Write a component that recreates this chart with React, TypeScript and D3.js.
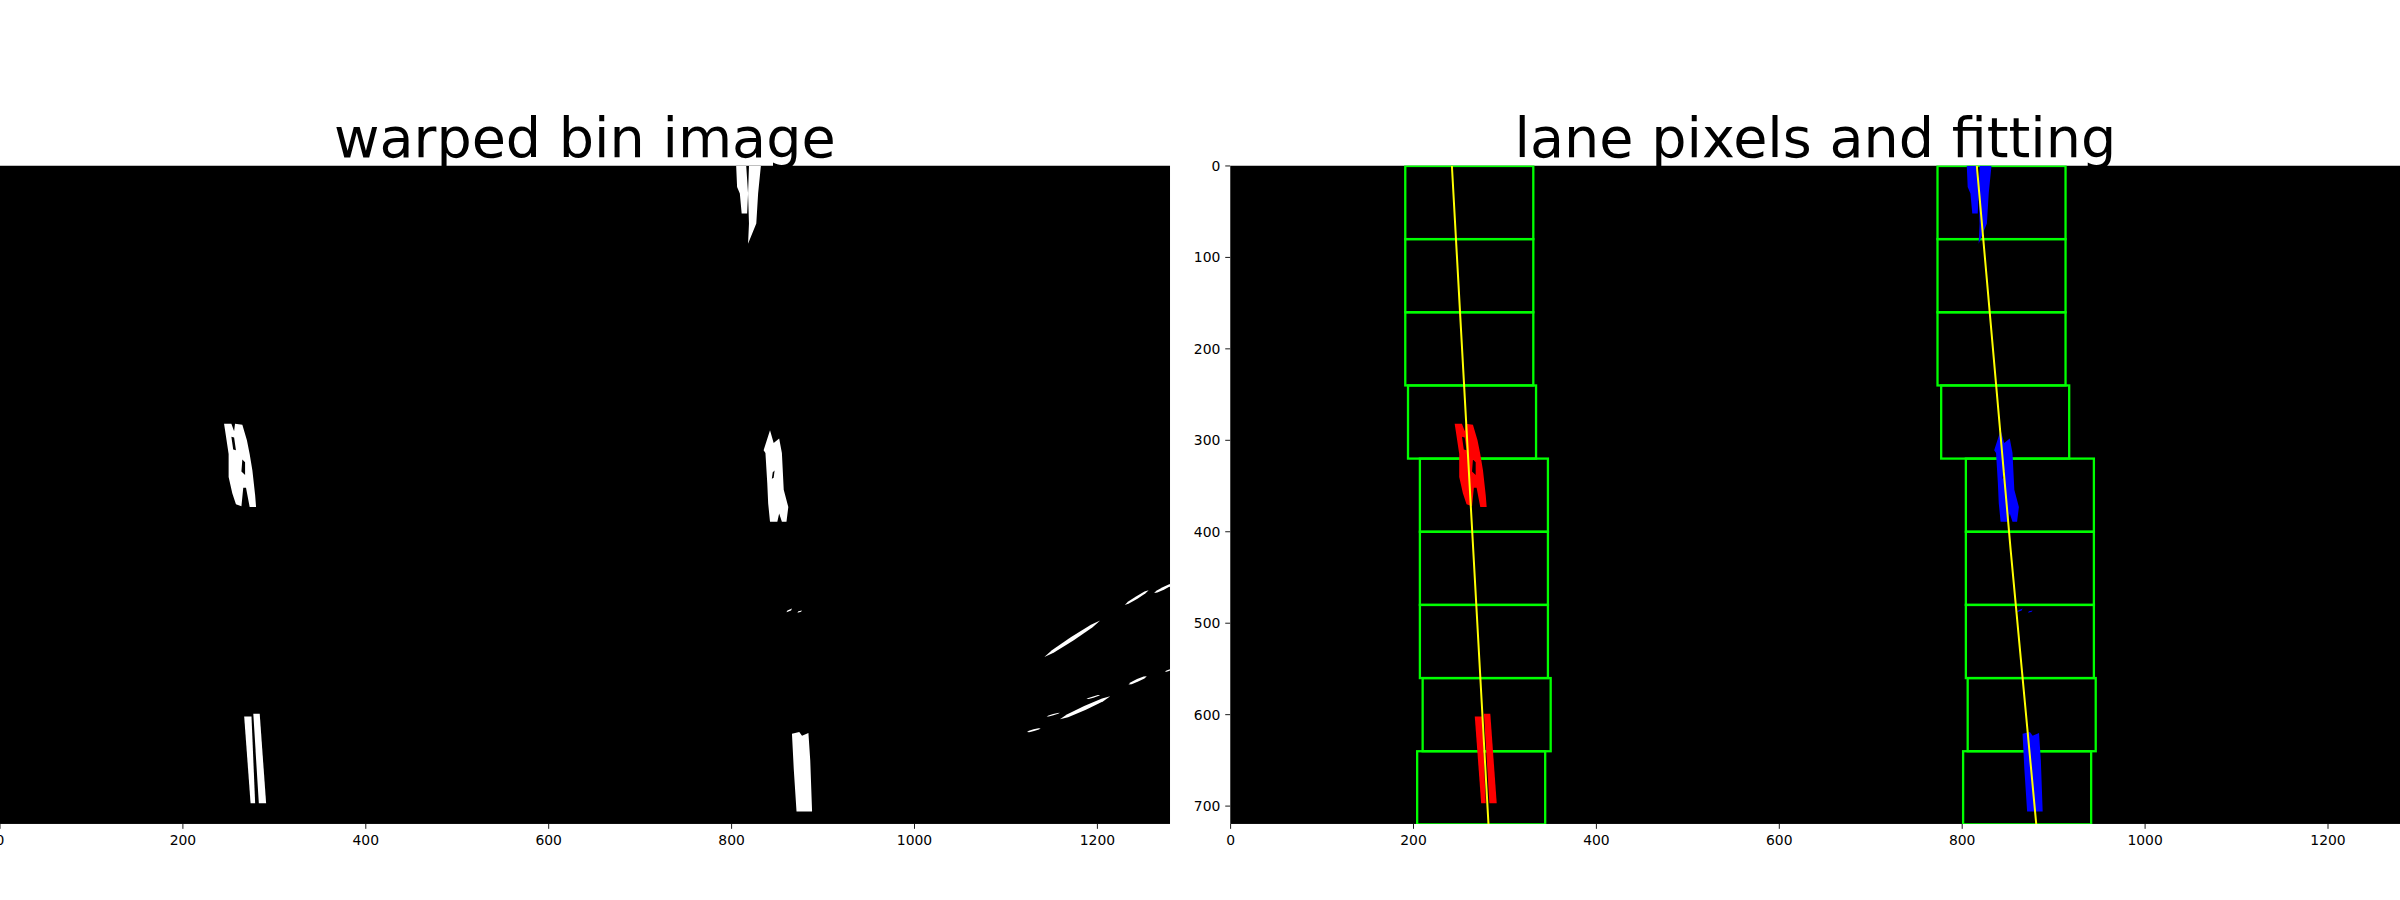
import * as d3 from "d3";
import React from "react";

type Pt = [number, number];

// image is 1280 x 720 pixels, both panels
const IMG_W = 1280;
const IMG_H = 720;

// lane pixel blobs, in image pixel coords [x, y].
// each blob: first ring is the outline, further rings are holes
const leftLaneBlobs: Pt[][][] = [
  [
    [[245, 282], [253, 282], [256, 290], [257, 282], [265, 283], [270, 300], [273, 315], [276, 333], [279, 360], [280, 373], [273, 373], [269, 352], [266, 352], [264, 372], [258, 370], [254, 358], [250, 340], [250, 315], [247, 295]],
    [[253, 296], [256, 297], [258, 311], [255, 310]],
    [[265, 321], [268, 324], [268, 338], [264, 334]],
  ],
  [[[267, 602], [275, 602], [279, 697], [274, 697]]],
  [[[277, 599], [284, 599], [291, 697], [283, 697]]],
];

const rightLaneBlobs: Pt[][][] = [
  [[[805, 0], [816, 0], [818, 30], [817, 52], [811, 52], [809, 30], [806, 23]]],
  [[[819, 0], [832, 0], [829, 30], [827, 63], [818, 85], [819, 63], [818, 30]]],
  [
    [[835, 311], [842, 289], [846, 303], [852, 298], [855, 314], [857, 354], [862, 373], [860, 389], [855, 389], [852, 380], [850, 389], [842, 389], [840, 369], [839, 347], [837, 314]],
    [[845, 335], [847, 333], [846, 341], [844, 342]],
  ],
  [[[866, 621], [874, 619], [877, 623], [884, 620], [886, 650], [888, 706], [871, 706], [868, 660]]],
  [[[860, 488], [861, 486], [866, 484], [865, 486]]],
  [[[872, 488.5], [873, 487], [877, 486], [876, 487.5]]],
];

// diagonal streaks outside the lanes: [x1, y1, x2, y2, width]
const noiseStreaks: number[][] = [
  [1230, 480, 1256, 464, 3],
  [1262, 467, 1282, 457, 3],
  [1142, 537, 1203, 497, 4.5],
  [1234, 567, 1254, 558, 3],
  [1274, 553, 1282, 550, 1.5],
  [1159, 605, 1214, 580, 4.5],
  [1144.5, 602, 1159, 598, 1.5],
  [1188, 583, 1203, 578.5, 1.5],
  [1123, 619, 1138, 615, 2],
];

// sliding windows: y top of each window and its centre x
const windowTops = [0, 80, 160, 240, 320, 400, 480, 560, 640];
const leftWindowCenters = [261, 261, 261, 264, 277, 277, 277, 280, 274];
const rightWindowCenters = [843, 843, 843, 847, 874, 874, 874, 876, 871];
const windowMargin = 70;
const windowHeight = 80;

// fitted lines, [y, x]
const leftFit: Pt[] = [[0, 242], [360, 262], [720, 282]];
const rightFit: Pt[] = [[0, 816], [420, 853], [720, 881]];

const xTicks = [0, 200, 400, 600, 800, 1000, 1200];
const yTicks = [0, 100, 200, 300, 400, 500, 600, 700];

const titles = ["warped bin image", "lane pixels and fitting"];

const K = 0.9145; // screen px per image px
const AX_TOP = 165.5;
const PANEL_X0 = [0, 1230.6];
const FONT = "DejaVu Sans, sans-serif";

const yScale = d3.scaleLinear().domain([-0.5, IMG_H - 0.5]).range([AX_TOP, AX_TOP + IMG_H * K]);

const streakPoly = (s: number[]): Pt[] => {
  const [x1, y1, x2, y2, w] = s;
  const dx = x2 - x1, dy = y2 - y1;
  const len = Math.hypot(dx, dy);
  const nx = -dy / len, ny = dx / len;
  const ts = [0, 0.15, 0.5, 0.85, 1];
  const hw = [0, 0.75, 1, 0.75, 0];
  const up: Pt[] = ts.map((t, i) => [x1 + dx * t + nx * hw[i] * w / 2, y1 + dy * t + ny * hw[i] * w / 2]);
  const down: Pt[] = ts.map((t, i) => [x1 + dx * t - nx * hw[i] * w / 2, y1 + dy * t - ny * hw[i] * w / 2]).reverse();
  return up.concat(down.slice(1, -1));
};

const Panel: React.FC<{ idx: number }> = ({ idx }) => {
  const x0 = PANEL_X0[idx];
  const xs = d3.scaleLinear().domain([-0.5, IMG_W - 0.5]).range([x0 - 0.5 * K, x0 + (IMG_W - 0.5) * K]);
  const ring = d3.line<Pt>().x(d => xs(d[0])).y(d => yScale(d[1])).curve(d3.curveLinearClosed);
  const blobPath = (rings: Pt[][]) => rings.map(r => ring(r)).join(" ");
  const fitLine = d3.line<Pt>().x(d => xs(d[1])).y(d => yScale(d[0])).curve(d3.curveNatural);
  const [left, right] = xs.range();
  const [top, bottom] = yScale.range();
  const clipId = `clip-${idx}`;

  return (
    <g>
      <defs>
        <clipPath id={clipId}>
          <rect x={left} y={top} width={right - left} height={bottom - top} />
        </clipPath>
      </defs>
      <g clipPath={`url(#${clipId})`}>
        <rect x={left} y={top} width={right - left} height={bottom - top} fill="#000" />
        {idx === 0 ? (
          <g fill="#fff" fillRule="evenodd">
            {leftLaneBlobs.concat(rightLaneBlobs).map((b, i) => <path key={i} d={blobPath(b)} />)}
            {noiseStreaks.map((s, i) => <path key={"n" + i} d={ring(streakPoly(s))!} />)}
          </g>
        ) : (
          <g>
            {windowTops.map((yt, i) => (
              <g key={i} fill="none" stroke="#00ff00" strokeWidth={2.3}>
                <rect x={xs(leftWindowCenters[i] - windowMargin)} y={yScale(yt)}
                  width={2 * windowMargin * K} height={windowHeight * K} />
                <rect x={xs(rightWindowCenters[i] - windowMargin)} y={yScale(yt)}
                  width={2 * windowMargin * K} height={windowHeight * K} />
              </g>
            ))}
            {leftLaneBlobs.map((b, i) => <path key={"l" + i} d={blobPath(b)} fill="#ff0000" fillRule="evenodd" />)}
            {rightLaneBlobs.map((b, i) => <path key={"r" + i} d={blobPath(b)} fill="#0000ff" fillRule="evenodd" />)}
            <path d={fitLine(leftFit)!} fill="none" stroke="#ffff00" strokeWidth={2} />
            <path d={fitLine(rightFit)!} fill="none" stroke="#ffff00" strokeWidth={2} />
          </g>
        )}
      </g>
      {xTicks.map(t => (
        <g key={"x" + t}>
          <line x1={xs(t)} x2={xs(t)} y1={bottom} y2={bottom + 4.9} stroke="#000" strokeWidth={0.9} />
          <text x={xs(t)} y={bottom + 21} textAnchor="middle" fontSize={13.9} fontFamily={FONT}>{t}</text>
        </g>
      ))}
      {/* the left panel's y axis falls outside the cropped figure */}
      {idx === 1 && yTicks.map(t => (
        <g key={"y" + t}>
          <line x1={left - 4.9} x2={left} y1={yScale(t)} y2={yScale(t)} stroke="#000" strokeWidth={0.9} />
          <text x={left - 9.8} y={yScale(t) + 5} textAnchor="end" fontSize={13.9} fontFamily={FONT}>{t}</text>
        </g>
      ))}
      <text x={(left + right) / 2} y={157} textAnchor="middle" fontSize={55.6} fontFamily={FONT}>{titles[idx]}</text>
    </g>
  );
};

export default function App() {
  return (
    <svg width={2400} height={900} style={{ position: "absolute", left: 0, top: 0, background: "#fff" }}>
      <Panel idx={0} />
      <Panel idx={1} />
    </svg>
  );
}
